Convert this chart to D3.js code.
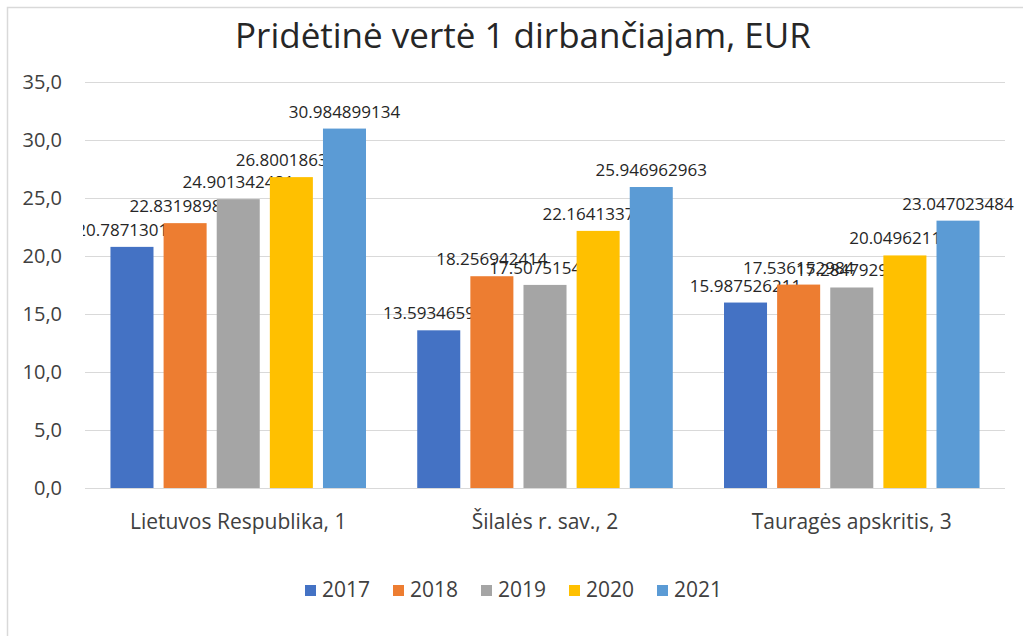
<!DOCTYPE html>
<html>
<head>
<meta charset="utf-8">
<script src="https://cdn.jsdelivr.net/npm/d3@7"></script>
<style>
  body { margin: 0; background: #fff; }
  svg { display: block; font-family: 'Open Sans', 'Noto Sans', sans-serif; }
</style>
</head>
<body>
<svg id="chart" width="1023" height="636"></svg>
<script>
const title = 'Pridėtinė vertė 1 dirbančiajam, EUR';
const categories = ['Lietuvos Respublika, 1', 'Šilalės r. sav., 2', 'Tauragės apskritis, 3'];
const years = ['2017', '2018', '2019', '2020', '2021'];
const colors = ['#4472C4', '#ED7D31', '#A5A5A5', '#FFC000', '#5B9BD5'];
// one array per year, values in category order
const v2017 = [20.787130185, 13.593465909, 15.987526211];
const v2018 = [22.831989834, 18.256942414, 17.536152984];
const v2019 = [24.901342481, 17.507515432, 17.284792917];
const v2020 = [26.800186335, 22.164133739, 20.049621173];
const v2021 = [30.984899134, 25.946962963, 23.047023484];
const yTicks = [0, 5, 10, 15, 20, 25, 30, 35];

const series = [v2017, v2018, v2019, v2020, v2021];

const svg = d3.select('#chart');

// chart border (left and top only visible)
svg.append('path')
    .attr('d', 'M7.5,636 V7.5 H1023')
    .attr('fill', 'none')
    .attr('stroke', '#d9d9d9')
    .attr('stroke-width', 1.5);

svg.append('text')
    .attr('x', 523)
    .attr('y', 48)
    .attr('text-anchor', 'middle')
    .attr('font-size', 35)
    .attr('fill', '#262626')
    .text(title);

const x0 = d3.scaleBand()
    .domain(categories)
    .range([85, 1005])
    .paddingInner(0.167)
    .paddingOuter(0.083);

const x1 = d3.scaleBand()
    .domain(years)
    .range([0, x0.bandwidth()])
    .paddingInner(0.19)
    .paddingOuter(0);

const y = d3.scaleLinear()
    .domain([0, 35])
    .range([488, 82]);

// gridlines
svg.append('g')
    .selectAll('line')
    .data(yTicks)
    .join('line')
    .attr('x1', 85)
    .attr('x2', 1005)
    .attr('y1', d => Math.round(y(d)) + 0.5)
    .attr('y2', d => Math.round(y(d)) + 0.5)
    .attr('stroke', '#d9d9d9')
    .attr('stroke-width', 1);

// y tick labels
svg.append('g')
    .selectAll('text')
    .data(yTicks)
    .join('text')
    .attr('x', 62)
    .attr('y', d => y(d) + 7)
    .attr('text-anchor', 'end')
    .attr('font-size', 20)
    .attr('fill', '#404040')
    .text(d => d3.format('.1f')(d).replace('.', ','));

// category labels
svg.append('g')
    .selectAll('text')
    .data(categories)
    .join('text')
    .attr('x', d => x0(d) + x0.bandwidth() / 2)
    .attr('y', 529)
    .attr('text-anchor', 'middle')
    .attr('font-size', 21)
    .attr('fill', '#404040')
    .text(d => d);

svg.append('clipPath')
    .attr('id', 'labelClip')
    .append('rect')
    .attr('x', 83)
    .attr('y', 0)
    .attr('width', 940)
    .attr('height', 636);

// bars then labels per year, so later bars sit on top of earlier labels (like Excel)
series.forEach((vals, i) => {
    const yr = years[i];
    const g = svg.append('g');
    g.selectAll('rect')
        .data(vals)
        .join('rect')
        .attr('x', (d, j) => x0(categories[j]) + x1(yr))
        .attr('y', d => y(d))
        .attr('width', x1.bandwidth())
        .attr('height', d => y(0) - y(d))
        .attr('fill', colors[i]);
    g.append('g')
        .attr('clip-path', 'url(#labelClip)')
        .selectAll('text')
        .data(vals)
        .join('text')
        .attr('x', (d, j) => x0(categories[j]) + x1(yr) + x1.bandwidth() / 2)
        .attr('y', d => y(d) - 11)
        .attr('text-anchor', 'middle')
        .attr('font-size', 17)
        .attr('fill', '#262626')
        .text(d => d.toFixed(9));
});

// legend
const legend = svg.append('g')
    .selectAll('g')
    .data(years)
    .join('g')
    .attr('transform', (d, i) => `translate(${305 + i * 88},0)`);
legend.append('rect')
    .attr('x', 0)
    .attr('y', 585)
    .attr('width', 11)
    .attr('height', 11)
    .attr('fill', (d, i) => colors[i]);
legend.append('text')
    .attr('x', 17)
    .attr('y', 597)
    .attr('font-size', 21)
    .attr('fill', '#404040')
    .text(d => d);
</script>
</body>
</html>
